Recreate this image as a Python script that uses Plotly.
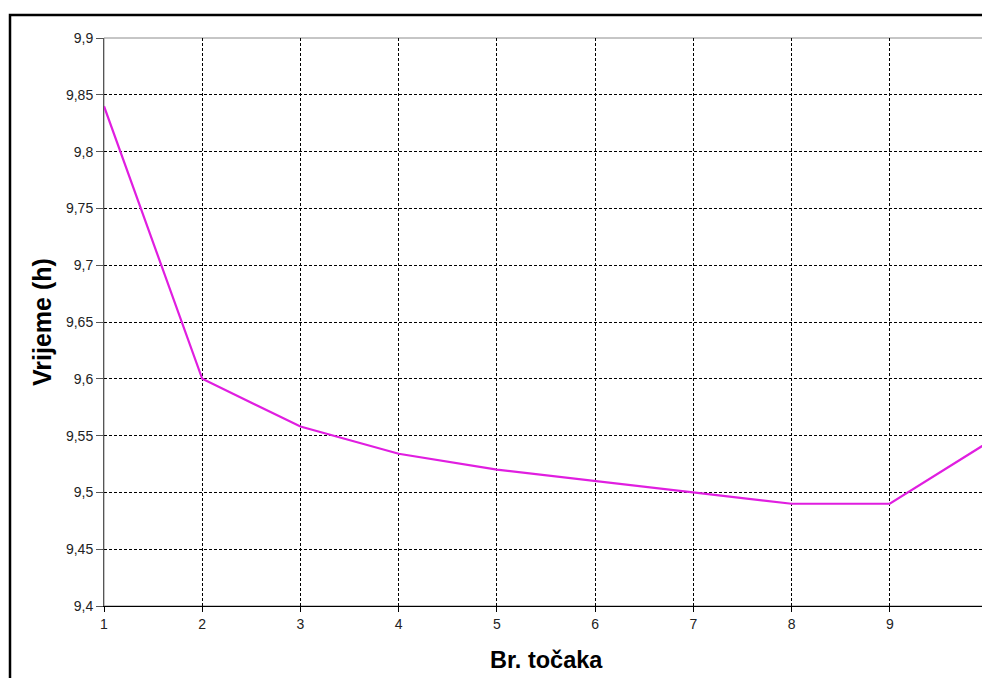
import plotly.graph_objects as go

x_points = [1, 2, 3, 4, 5, 6, 7, 8, 9, 10]
vrijeme = [9.84, 9.60, 9.558, 9.534, 9.52, 9.51, 9.50, 9.49, 9.49, 9.544]
y_tick_vals = [9.4, 9.45, 9.5, 9.55, 9.6, 9.65, 9.7, 9.75, 9.8, 9.85, 9.9]
y_tick_labels = ["9,4", "9,45", "9,5", "9,55", "9,6", "9,65", "9,7", "9,75", "9,8", "9,85", "9,9"]
x_tick_labels = ["1", "2", "3", "4", "5", "6", "7", "8", "9", "10"]
x_title = "Br. točaka"
y_title = "Vrijeme (h)"

# page body has an 8px margin, so the figure is sized/offset accordingly
W, H = 982, 670
L, R, T, B = 96, 2, 30, 72
PW, PH = W - L - R, H - T - B

fig = go.Figure()
fig.add_trace(go.Scatter(
    x=x_points, y=vrijeme, mode="lines",
    line=dict(color="#e01ee0", width=2.2),
    showlegend=False, hoverinfo="skip",
))

# plot area border (gray)
fig.add_shape(type="rect", xref="x domain", yref="y domain", x0=0, x1=1, y0=0, y1=1,
              line=dict(color="#8c8c8c", width=1), layer="below")
# outer chart border (black)
fig.add_shape(type="rect", xref="paper", yref="paper",
              x0=(2 - L) / PW, x1=1.2, y0=-0.4, y1=1 + (T - 7) / PH,
              line=dict(color="black", width=2.5))

fig.add_annotation(text="<b>" + x_title + "</b>", xref="paper", yref="paper",
                   x=(546 - 8 - L) / PW, y=-(660 - 8 - (T + PH)) / PH,
                   xanchor="center", yanchor="middle", showarrow=False,
                   font=dict(size=23.5, color="black", family="Liberation Sans, Arial, sans-serif"))
fig.add_annotation(text="<b>" + y_title + "</b>", xref="paper", yref="paper",
                   x=(42 - 8 - L) / PW, y=0.5, textangle=-90,
                   xanchor="center", yanchor="middle", showarrow=False,
                   font=dict(size=25, color="black", family="Liberation Sans, Arial, sans-serif"))

fig.update_layout(
    width=W, height=H,
    margin=dict(l=L, r=R, t=T, b=B),
    paper_bgcolor="white", plot_bgcolor="white",
    font=dict(family="Liberation Sans, Arial, sans-serif", color="#222222"),
    xaxis=dict(
        range=[1, 10], tickvals=x_points, ticktext=x_tick_labels,
        showgrid=True, gridcolor="black", griddash="3px,2px", gridwidth=1,
        showline=True, linecolor="black", linewidth=1,
        ticks="outside", ticklen=5, tickcolor="black",
        tickfont=dict(size=14, color="#222222"),
        zeroline=False, automargin=False,
    ),
    yaxis=dict(
        range=[9.4, 9.9], tickvals=y_tick_vals, ticktext=y_tick_labels,
        showgrid=True, gridcolor="black", griddash="3px,2px", gridwidth=1,
        showline=True, linecolor="#555555", linewidth=1,
        ticks="outside", ticklen=7, tickcolor="#555555",
        tickfont=dict(size=14, color="#222222"),
        zeroline=False, automargin=False,
    ),
)

fig.write_html("out.html")
